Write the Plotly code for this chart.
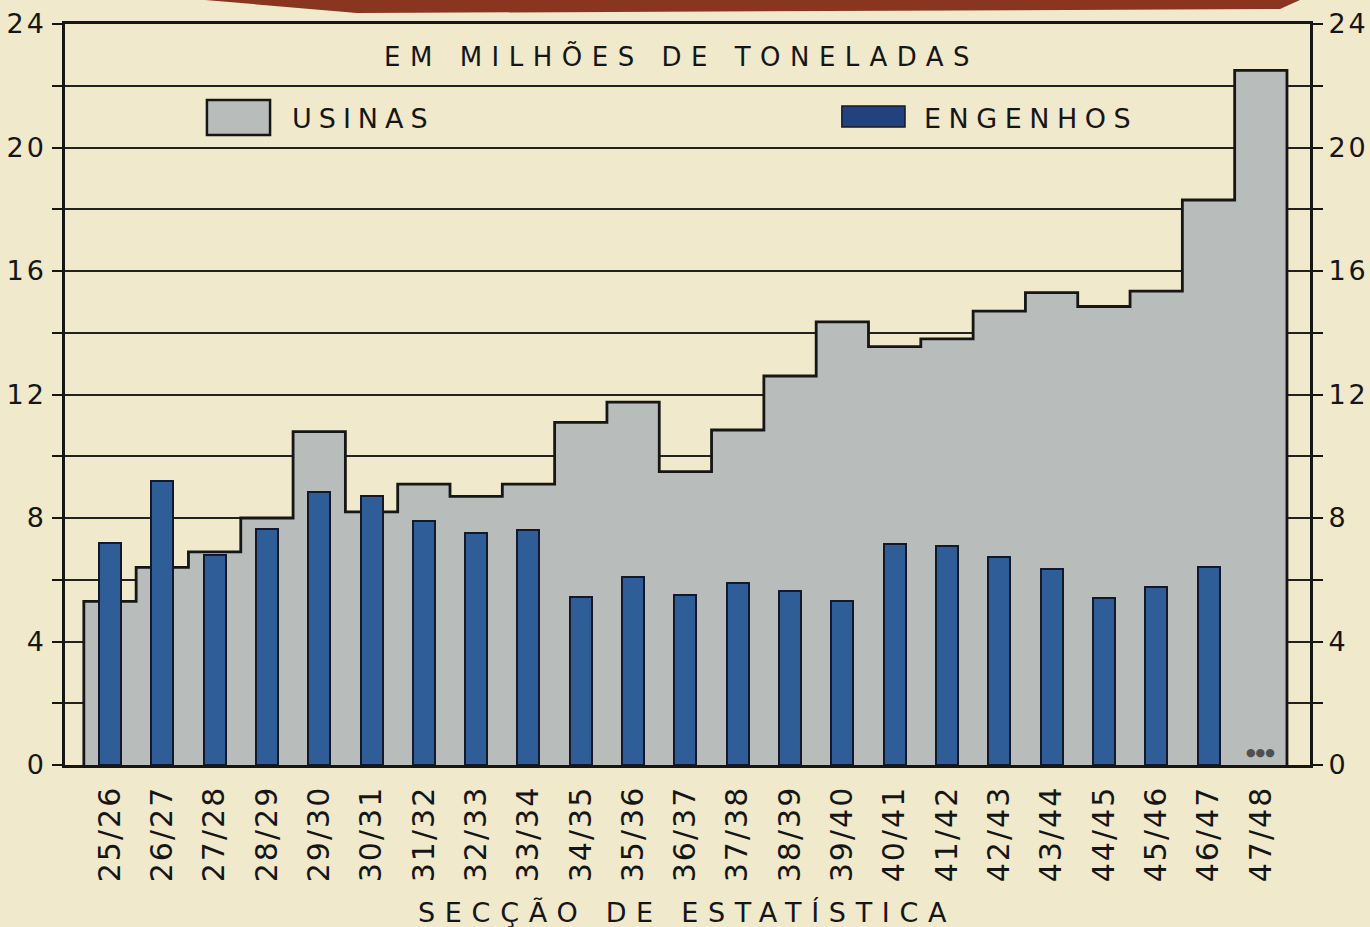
import plotly.graph_objects as go

# ---- data ----
safras = ["25/26", "26/27", "27/28", "28/29", "29/30", "30/31", "31/32", "32/33",
          "33/34", "34/35", "35/36", "36/37", "37/38", "38/39", "39/40", "40/41",
          "41/42", "42/43", "43/44", "44/45", "45/46", "46/47", "47/48"]
usinas = [5.3, 6.4, 6.9, 8.0, 10.8, 8.2, 9.1, 8.7, 9.1, 11.1, 11.75, 9.5, 10.85,
          12.6, 14.35, 13.55, 13.8, 14.7, 15.3, 14.85, 15.35, 18.3, 22.5]
engenhos = [7.2, 9.2, 6.8, 7.65, 8.85, 8.7, 7.9, 7.5, 7.6, 5.45, 6.1, 5.5, 5.9,
            5.65, 5.3, 7.15, 7.1, 6.75, 6.35, 5.4, 5.75, 6.4, None]
y_ticks = [0, 2, 4, 6, 8, 10, 12, 14, 16, 18, 20, 22, 24]
y_labels = ["0", "", "4", "", "8", "", "12", "", "16", "", "20", "", "24"]

BG = "#f1e9cb"
GRAY = "#b8bcbb"
BLUE = "#2e5d97"
INK = "#161616"
FONT = "DejaVu Sans"


def sp(text, px):
    return f'<span style="letter-spacing:{px}px">{text}</span>'


idx = list(range(len(safras)))

# step outline of the "usinas" area built from the values
step_x, step_y = [idx[0] - 0.5], [0]
for i, v in zip(idx, usinas):
    step_x += [i - 0.5, i + 0.5]
    step_y += [v, v]
step_x.append(idx[-1] + 0.5)
step_y.append(0)

fig = go.Figure()
fig.add_trace(go.Scatter(
    x=step_x, y=step_y, mode="lines", fill="toself", fillcolor=GRAY,
    line=dict(color=INK, width=2.8), name="USINAS", showlegend=False,
    hoverinfo="skip"))
fig.add_trace(go.Bar(
    x=idx, y=engenhos, width=0.42, xaxis="x2", yaxis="y2",
    marker=dict(color=BLUE, line=dict(color="#15182a", width=2)),
    name="ENGENHOS", showlegend=False))

xr = [-0.86, 22.94]
fig.update_layout(
    width=1370, height=927,
    margin=dict(l=65, r=60, t=24, b=162),
    paper_bgcolor=BG, plot_bgcolor=BG,
    font=dict(family=FONT, color=INK),
    showlegend=False,
    xaxis=dict(range=xr, tickmode="array", tickvals=idx,
               ticktext=[sp(s, 2) for s in safras], tickangle=-90,
               tickfont=dict(size=30, color=INK), ticks="", ticklabelstandoff=6,
               showgrid=False, zeroline=False, showline=True, linecolor=INK,
               linewidth=2.5, mirror=True, automargin=False, fixedrange=True),
    yaxis=dict(range=[0, 24], tickmode="array", tickvals=y_ticks,
               ticktext=[sp(s, 3) for s in y_labels],
               tickfont=dict(size=27, color=INK), ticks="outside", ticklen=10,
               tickwidth=2, tickcolor=INK, showgrid=True, gridcolor="#222222",
               gridwidth=2, zeroline=False, showline=True, linecolor=INK,
               linewidth=2.5, mirror="allticks", automargin=False, fixedrange=True),
    xaxis2=dict(range=xr, overlaying="x", visible=False, fixedrange=True),
    yaxis2=dict(range=[0, 24], overlaying="y", side="right", tickmode="array",
                tickvals=y_ticks, ticktext=[sp(s, 3) for s in y_labels],
                tickfont=dict(size=27, color=INK), ticks="outside", ticklen=12,
                tickcolor="rgba(0,0,0,0)", showgrid=False, zeroline=False,
                showline=False, automargin=False, fixedrange=True),
    bargap=0,
)

# legend swatches
fig.add_shape(type="rect", xref="paper", yref="paper",
              x0=0.114, x1=0.1647, y0=0.8502, y1=0.8974,
              fillcolor=GRAY, line=dict(color=INK, width=2.5))
fig.add_shape(type="rect", xref="paper", yref="paper",
              x0=0.624, x1=0.6747, y0=0.861, y1=0.8893,
              fillcolor="#21427e", line=dict(color="#15182a", width=1.5))

# decorative red band at the top of the sheet
fig.add_shape(type="path", xref="paper", yref="paper",
              path="M 0.1124 1.05 L 0.1124 1.0324 L 0.2345 1.0148 L 0.9759 1.0202 L 0.992 1.0324 L 0.992 1.05 Z",
              fillcolor="#8a3520", line=dict(width=0), layer="above")

fig.add_annotation(text=sp("EM MILHÕES DE TONELADAS", 9.5), xref="paper", yref="paper",
                   x=0.4948, y=0.9555, showarrow=False, xanchor="center", yanchor="middle",
                   font=dict(size=26, color=INK))
fig.add_annotation(text=sp("USINAS", 7), xref="paper", yref="paper",
                   x=0.1807, y=0.873, showarrow=False, xanchor="left", yanchor="middle",
                   font=dict(size=27, color=INK))
fig.add_annotation(text=sp("ENGENHOS", 7.5), xref="paper", yref="paper",
                   x=0.6884, y=0.873, showarrow=False, xanchor="left", yanchor="middle",
                   font=dict(size=27, color=INK))
fig.add_annotation(text=sp("SECÇÃO DE ESTATÍSTICA", 9.7), xref="paper", yref="paper",
                   x=0.4996, y=-0.1997, showarrow=False, xanchor="center", yanchor="middle",
                   font=dict(size=27, color=INK))
fig.add_annotation(text="●●●", xref="x", yref="y", x=idx[-1], y=0.4,
                   showarrow=False, font=dict(size=11, color="#505050"))

fig.write_html(
    "out.html",
    config={"displayModeBar": False},
    post_script="document.body.style.margin='0';document.body.style.background='" + BG + "';",
)
